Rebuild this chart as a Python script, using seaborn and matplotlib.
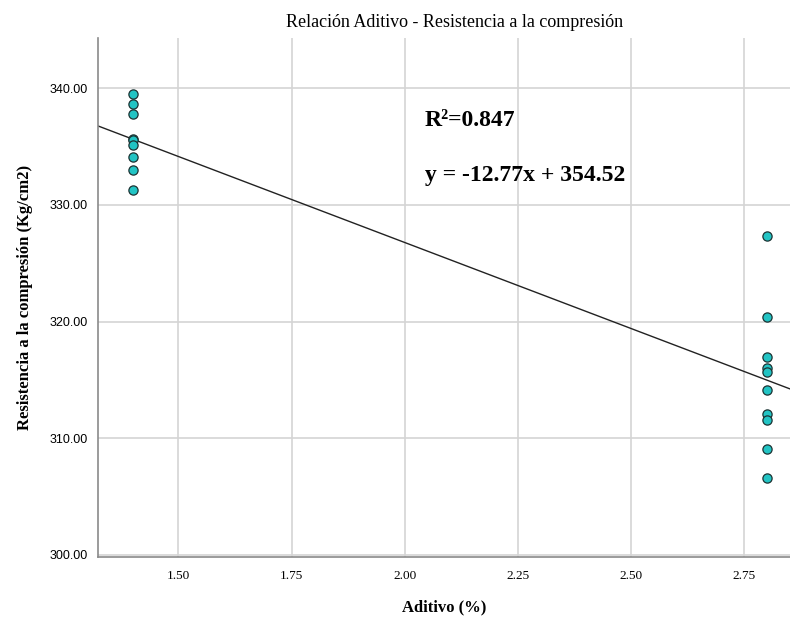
import numpy as np
import pandas as pd
import seaborn as sns
import matplotlib.pyplot as plt

# Values
aditivo_bajo = 1.4
aditivo_alto = 2.8
resistencia_bajo = [339.50, 338.65, 337.76, 335.68, 335.57, 335.11, 334.06, 333.01, 331.26]
resistencia_alto = [327.35, 320.39, 316.97, 315.98, 315.64, 314.10, 312.10, 311.59, 309.06, 306.58]
y_ticks = [300, 310, 320, 330, 340]
x_ticks = [1.50, 1.75, 2.00, 2.25, 2.50, 2.75]
texto_r2 = "R²=0.847"
texto_ecuacion = "y = -12.77x + 354.52"

df = pd.DataFrame({
    "aditivo": [aditivo_bajo] * len(resistencia_bajo) + [aditivo_alto] * len(resistencia_alto),
    "resistencia": resistencia_bajo + resistencia_alto,
})

sns.set_style("whitegrid", {"grid.color": "#d4d4d4", "axes.edgecolor": "#8a8a8a",
                            "text.color": "black", "axes.labelcolor": "black",
                            "xtick.color": "black", "ytick.color": "black"})
plt.rcParams["font.family"] = ["Liberation Sans", "DejaVu Sans"]

fig = plt.figure(figsize=(7.9, 6.2), dpi=100)
ax = fig.add_axes([0.1237, 0.1013, 0.8763, 0.8374])
ax.set_xlim(1.322, 2.851)
ax.set_ylim(299.8, 344.3)

sns.regplot(x="aditivo", y="resistencia", data=df, ax=ax, ci=None, truncate=False,
            scatter_kws={"s": 44, "color": "#22c4c4", "edgecolors": "#1c3333",
                         "linewidths": 0.9, "alpha": 1, "zorder": 3},
            line_kws={"color": "#222222", "linewidth": 1.0, "zorder": 2})

ax.set_xticks(x_ticks)
ax.set_xticklabels([f"{v:.2f}" for v in x_ticks], fontsize=9.5, family="Liberation Serif")
ax.set_yticks(y_ticks)
ax.set_yticklabels([f"{v:.2f}" for v in y_ticks], fontsize=9)
ax.tick_params(axis="y", length=3, color="#8a8a8a", pad=4)
ax.tick_params(axis="x", length=0, pad=9)
ax.grid(True, linewidth=1.2)
for s in ["top", "right"]:
    ax.spines[s].set_visible(False)
for s in ["left", "bottom"]:
    ax.spines[s].set_linewidth(1.2)

ax.set_xlabel("Aditivo (%)", fontsize=12, fontweight="bold", family="Liberation Serif", labelpad=13)
ax.set_ylabel("Resistencia a la compresión (Kg/cm2)", fontsize=12, fontweight="bold",
              family="Liberation Serif", labelpad=12)

fig.text(0.576, 0.963, "Relación Aditivo - Resistencia a la compresión", ha="center", va="center",
         fontsize=13, family="Liberation Serif")
fig.text(425 / 790, 1 - 126 / 620, texto_r2, fontsize=17, fontweight="bold",
         family="Liberation Serif", va="baseline")
fig.text(425 / 790, 1 - 181 / 620, texto_ecuacion, fontsize=17, fontweight="bold",
         family="Liberation Serif", va="baseline")

plt.savefig("out.png", dpi=100)
